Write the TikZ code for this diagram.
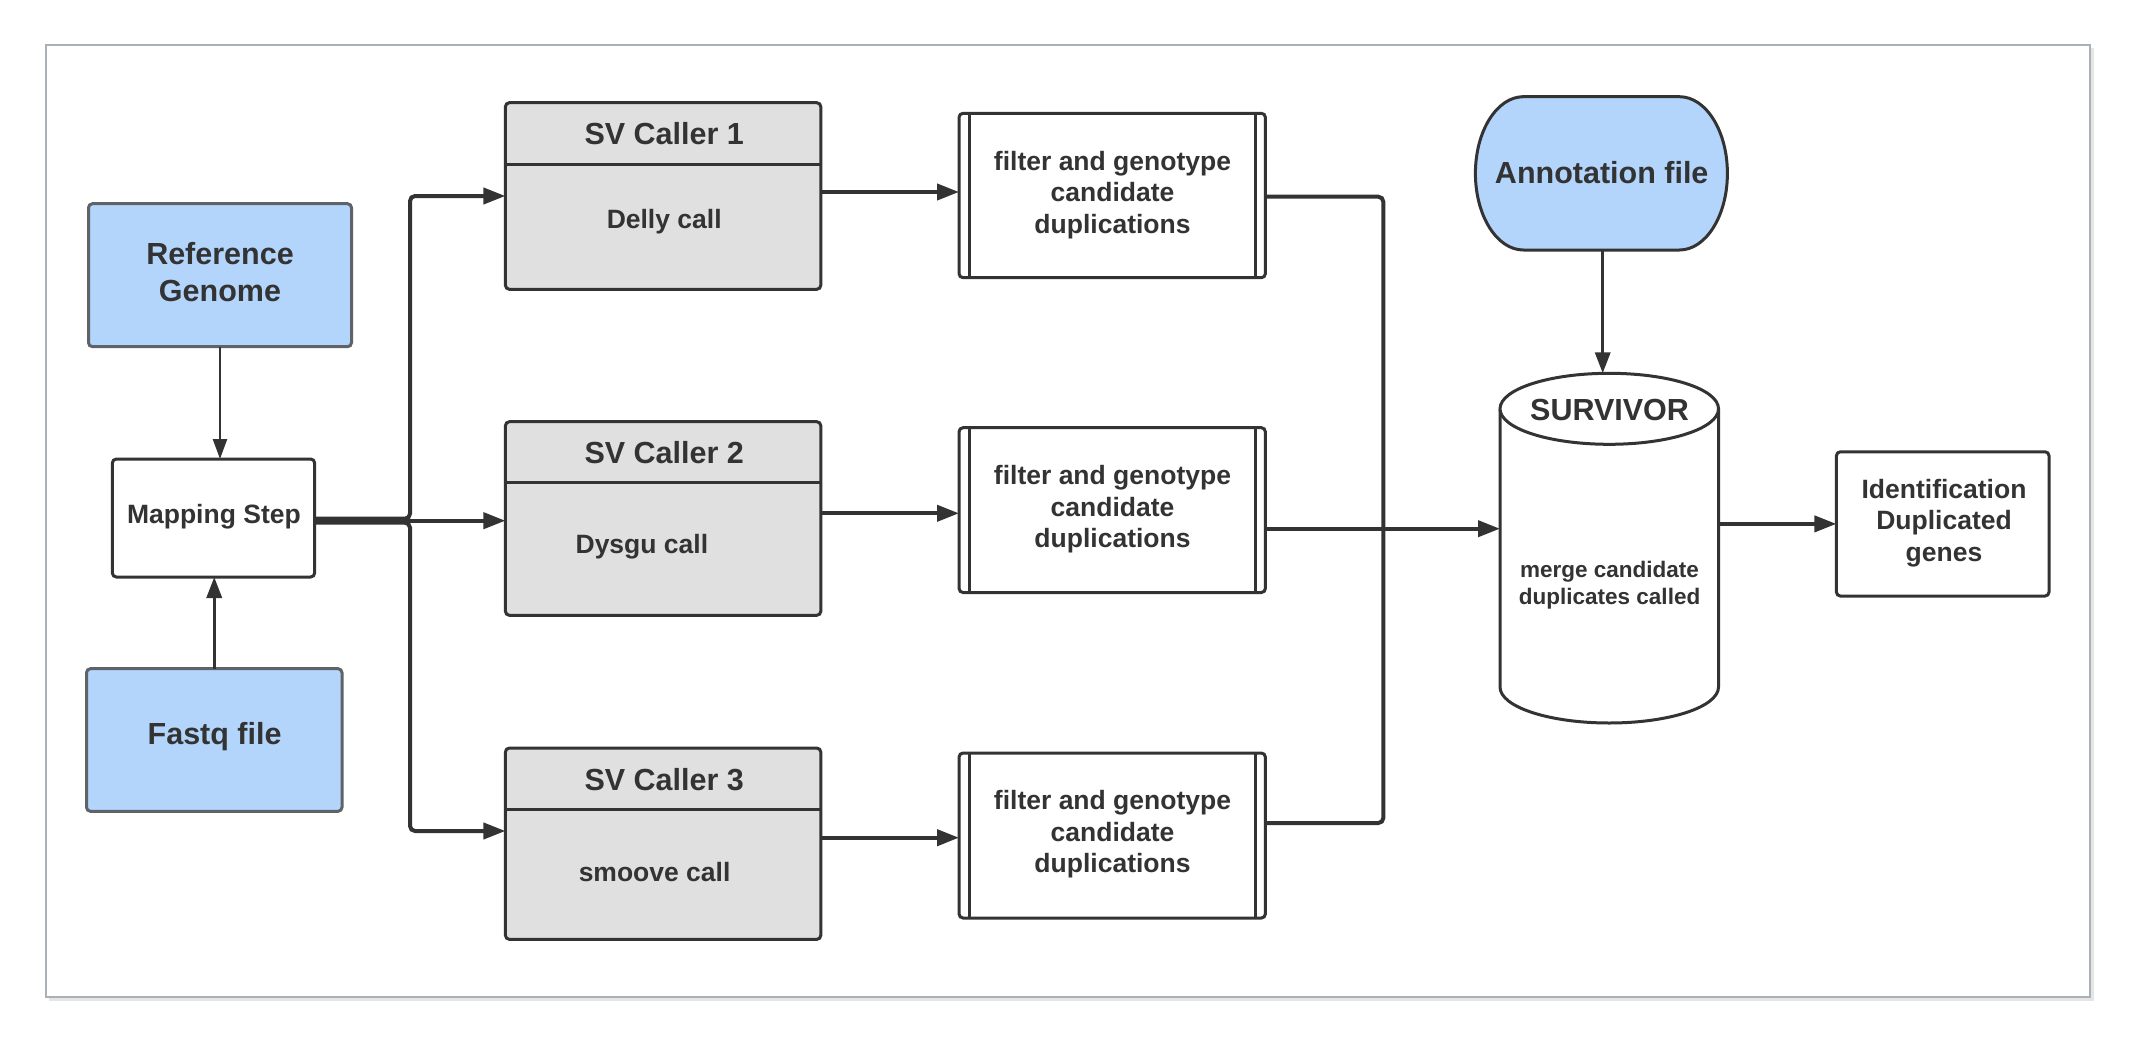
\documentclass[tikz,border=0pt]{standalone}
\usepackage{fontspec}
\setmainfont{Liberation Sans}
\usetikzlibrary{arrows.meta}
\definecolor{ink}{HTML}{333333}
\definecolor{bluef}{RGB}{179,213,252}
\definecolor{grayf}{HTML}{E0E0E0}
\definecolor{blueb}{HTML}{5F6368}
\definecolor{framec}{HTML}{A9B0BA}
\newcommand\fbig{\fontsize{30.5}{36.8}\selectfont\bfseries}
\newcommand\fmid{\fontsize{26.5}{31.5}\selectfont\bfseries}
\newcommand\fsmall{\fontsize{22.5}{26.5}\selectfont\bfseries}
\begin{document}
\begin{tikzpicture}[x=1pt,y=-1pt,
  every node/.style={text=ink, inner sep=0pt, outer sep=0pt, align=center},
  blk/.style={draw=ink, line width=3pt, rounded corners=4pt, fill=white},
  bluebox/.style={blk, draw=blueb, fill=bluef},
  svbox/.style={blk, fill=grayf},
  shapebox/.style={draw=none, fill=none},
  link/.style={draw=ink, line width=4pt, rounded corners=5pt},
  conn/.style={link, -{Triangle[length=22pt,width=16pt]}},
  thinconn/.style={draw=ink, line width=2.5pt, -{Triangle[length=20pt,width=14pt]}},
  midconn/.style={draw=ink, line width=3.5pt, -{Triangle[length=21pt,width=15pt]}},
  divider/.style={draw=ink, line width=3pt},
]
\useasboundingbox (0,0) rectangle (2136,1044);
\fill[white] (0,0) rectangle (2136,1044);
% frame
\draw[gray!20, line width=3pt] (49,999.5) -- (2092.3,999.5) -- (2092.3,48);
\draw[framec, line width=2pt] (46.3,45) rectangle (2089.8,997);

% left column
\node[bluebox, minimum width=263, minimum height=143] (ref) at (220,275.2) {};
\node[font=\fbig] (reft) at (220,272) {Reference\\Genome};
\node[blk, minimum width=202.3, minimum height=118] (map) at (213.5,518) {};
\node[font=\fmid] (mapt) at (213.9,516.5) {Mapping Step};
\node[bluebox, minimum width=255.5, minimum height=142.6] (fq) at (214.25,740) {};
\node[font=\fbig] (fqt) at (214.6,736.5) {Fastq file};

% SV callers
\node[svbox, minimum width=315.4, minimum height=186.6] (sv1) at (663.1,196) {};
\draw[divider] (505.4,164.3) -- (820.8,164.3);
\node[font=\fbig] (sv1h) at (664.2,134) {SV Caller 1};
\node[font=\fmid] (sv1b) at (664.2,221.5) {Delly call};

\node[svbox, minimum width=315.4, minimum height=193.6] (sv2) at (663.1,518.5) {};
\draw[divider] (505.4,482.7) -- (820.8,482.7);
\node[font=\fbig] (sv2h) at (664.2,452.8) {SV Caller 2};
\node[font=\fmid] (sv2b) at (641.9,546.5) {Dysgu call};

\node[svbox, minimum width=315.4, minimum height=191.3] (sv3) at (663.1,843.7) {};
\draw[divider] (505.4,809) -- (820.8,809);
\node[font=\fbig] (sv3h) at (664.2,779.2) {SV Caller 3};
\node[font=\fmid] (sv3b) at (654.6,872.5) {smoove call};

% filter boxes
\node[blk, minimum width=306.3, minimum height=164.4] (f1) at (1112.2,195.5) {};
\node[blk, minimum width=306.3, minimum height=164.8] (f2) at (1112.2,510.1) {};
\node[blk, minimum width=306.3, minimum height=165] (f3) at (1112.2,835.5) {};
\foreach \f in {f1,f2,f3}{
  \draw[divider] ([xshift=10.3pt]\f.north west) -- ([xshift=10.3pt]\f.south west);
  \draw[divider] ([xshift=-10.3pt]\f.north east) -- ([xshift=-10.3pt]\f.south east);
}
\node[font=\fmid] (f1t) at (1112.5,195) {filter and genotype\\candidate\\duplications};
\node[font=\fmid] (f2t) at (1112.5,509.5) {filter and genotype\\candidate\\duplications};
\node[font=\fmid] (f3t) at (1112.5,834.5) {filter and genotype\\candidate\\duplications};

% annotation file
\node[shapebox, minimum width=252, minimum height=153.3] (ann) at (1601.4,173.35) {};
\filldraw[fill=bluef, draw=ink, line width=3pt]
  (1523.4,96.7) -- (1679.4,96.7)
  arc[start angle=90, end angle=-90, x radius=48pt, y radius=76.65pt]
  -- (1523.4,250)
  arc[start angle=270, end angle=90, x radius=48pt, y radius=76.65pt] -- cycle;
\node[font=\fbig] (annt) at (1601.7,172.5) {Annotation file};

% SURVIVOR cylinder
\node[shapebox, minimum width=218.5, minimum height=349.7] (surv) at (1609.25,548.15) {};
\filldraw[fill=white, draw=ink, line width=3pt]
  (1500,408.8) -- (1500,687)
  arc[start angle=180, end angle=360, x radius=109.25pt, y radius=36pt]
  -- (1718.5,408.8);
\filldraw[fill=white, draw=ink, line width=3pt] (1609.25,408.8) ellipse [x radius=109.25pt, y radius=35.5pt];
\node[font=\fbig] (survt) at (1609.6,409.5) {SURVIVOR};
\node[font=\fsmall] (survb) at (1609.6,585) {merge candidate\\duplicates called};

% identification
\node[blk, minimum width=212.6, minimum height=144.3] (id) at (1942.7,523.9) {};
\node[font=\fmid] (idt) at (1944,523) {Identification\\Duplicated\\genes};

% connectors
\coordinate (br) at (410,520.7);
\coordinate (mg) at (1383.3,528.7);
\draw[thinconn] (ref.south) -- (ref.south |- map.north);
\draw[midconn] (fq.north) -- (fq.north |- map.south);
\draw[conn] ([yshift=2pt]map.east |- br) -- ([yshift=2pt]br) |- (sv1.west);
\draw[conn] (map.east |- br) -- (sv2.west |- br);
\draw[conn] ([yshift=-2pt]map.east |- br) -- ([yshift=-2pt]br) |- ([yshift=12.7pt]sv3.west);
\draw[conn] ([yshift=4pt]sv1.east) -- ([yshift=4pt]sv1.east -| f1.west);
\draw[conn] ([yshift=5.2pt]sv2.east) -- ([yshift=5.2pt]sv2.east -| f2.west);
\draw[conn] ([yshift=6pt]sv3.east) -- ([yshift=6pt]sv3.east -| f3.west);
\draw[link] ([yshift=-1.2pt]f1.east) -| (mg);
\draw[link] ([yshift=12.5pt]f3.east) -| (mg);
\draw[conn] (f2.east |- mg) -- (surv.west |- mg);
\draw[midconn] (ann.south -| 1602.7,0) -- (surv.north -| 1602.7,0);
\draw[conn] (surv.east |- id.west) -- (id.west);
\end{tikzpicture}
\end{document}
